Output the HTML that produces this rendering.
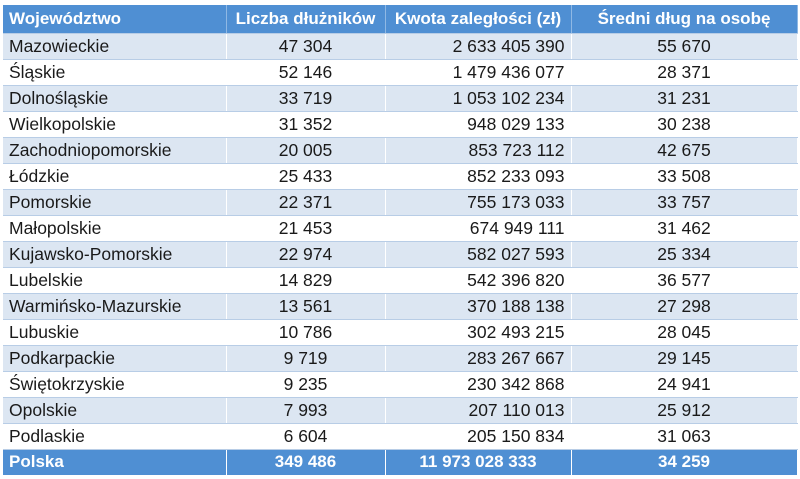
<!DOCTYPE html>
<html><head><meta charset="utf-8"><style>
body{margin:0;background:#fff;width:800px;height:479px;overflow:hidden}
table{position:absolute;left:3px;top:5px;border-collapse:collapse;font-family:"Liberation Sans",sans-serif;font-size:17.5px;color:#1a1a1a;table-layout:fixed;width:794px}
td,th{height:26px;padding:0 6px;border-right:1px solid #ffffff;border-bottom:1px solid #b8cde6;white-space:nowrap;overflow:hidden;box-sizing:border-box}
th{background:#4f8fd3;color:#fff;font-weight:bold;font-size:17px;height:28px;text-align:center;border-right:1px solid #8fb8e4;padding:0 2px}
th:first-child{text-align:left;padding-left:6px}
tr:nth-child(even) td{background:#dce6f2}
tr:nth-child(odd) td{background:#fff}
td:nth-child(2),td:nth-child(4){text-align:center}
td:nth-child(3){text-align:right}
tr.tot td{background:#4f8fd3;color:#fff;font-weight:bold;border-bottom:none;font-size:17px}
tr.tot td:nth-child(3){text-align:center}
</style></head><body>
<table>
<colgroup><col style="width:223px"><col style="width:159px"><col style="width:186px"><col style="width:226px"></colgroup>
<tr><th>Województwo</th><th>Liczba dłużników</th><th>Kwota zaległości (zł)</th><th>Średni dług na osobę</th></tr>
<tr><td>Mazowieckie</td><td>47 304</td><td>2 633 405 390</td><td>55 670</td></tr>
<tr><td>Śląskie</td><td>52 146</td><td>1 479 436 077</td><td>28 371</td></tr>
<tr><td>Dolnośląskie</td><td>33 719</td><td>1 053 102 234</td><td>31 231</td></tr>
<tr><td>Wielkopolskie</td><td>31 352</td><td>948 029 133</td><td>30 238</td></tr>
<tr><td>Zachodniopomorskie</td><td>20 005</td><td>853 723 112</td><td>42 675</td></tr>
<tr><td>Łódzkie</td><td>25 433</td><td>852 233 093</td><td>33 508</td></tr>
<tr><td>Pomorskie</td><td>22 371</td><td>755 173 033</td><td>33 757</td></tr>
<tr><td>Małopolskie</td><td>21 453</td><td>674 949 111</td><td>31 462</td></tr>
<tr><td>Kujawsko-Pomorskie</td><td>22 974</td><td>582 027 593</td><td>25 334</td></tr>
<tr><td>Lubelskie</td><td>14 829</td><td>542 396 820</td><td>36 577</td></tr>
<tr><td>Warmińsko-Mazurskie</td><td>13 561</td><td>370 188 138</td><td>27 298</td></tr>
<tr><td>Lubuskie</td><td>10 786</td><td>302 493 215</td><td>28 045</td></tr>
<tr><td>Podkarpackie</td><td>9 719</td><td>283 267 667</td><td>29 145</td></tr>
<tr><td>Świętokrzyskie</td><td>9 235</td><td>230 342 868</td><td>24 941</td></tr>
<tr><td>Opolskie</td><td>7 993</td><td>207 110 013</td><td>25 912</td></tr>
<tr><td>Podlaskie</td><td>6 604</td><td>205 150 834</td><td>31 063</td></tr>
<tr class="tot"><td>Polska</td><td>349 486</td><td>11 973 028 333</td><td>34 259</td></tr>
</table>
</body></html>
